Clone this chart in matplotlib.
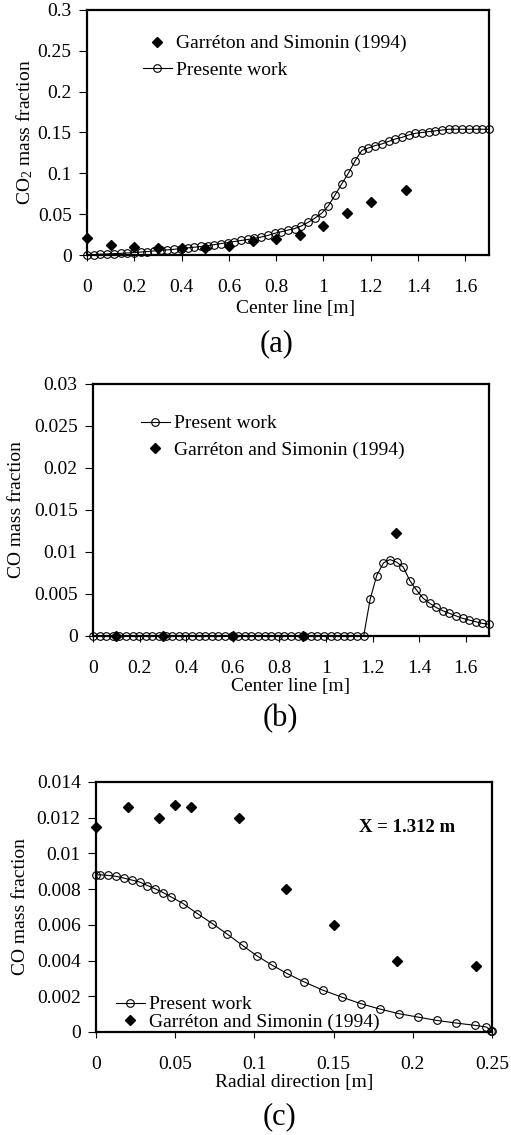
import matplotlib
matplotlib.use("Agg")
import matplotlib.pyplot as plt
from matplotlib.ticker import MultipleLocator, FormatStrFormatter

plt.rcParams['font.family'] = ['Liberation Serif', 'DejaVu Serif']
plt.rcParams['mathtext.fontset'] = 'custom'
plt.rcParams['mathtext.rm'] = 'Liberation Serif'
plt.rcParams['mathtext.it'] = 'Liberation Serif:italic'
plt.rcParams['font.size'] = 14

# ---- data: centre line grid (panels a and b) ----
xc = [0.000, 0.028, 0.057, 0.085, 0.113, 0.142, 0.170, 0.198, 0.227, 0.255,
      0.283, 0.312, 0.340, 0.368, 0.397, 0.425, 0.453, 0.482, 0.510, 0.538,
      0.567, 0.595, 0.623, 0.652, 0.680, 0.708, 0.737, 0.765, 0.793, 0.822,
      0.850, 0.878, 0.907, 0.935, 0.963, 0.992, 1.020, 1.048, 1.077, 1.105,
      1.133, 1.162, 1.190, 1.218, 1.247, 1.275, 1.303, 1.332, 1.360, 1.388,
      1.417, 1.445, 1.473, 1.502, 1.530, 1.558, 1.587, 1.615, 1.643, 1.672,
      1.700]
co2_present = [0.0000, 0.0005, 0.0010, 0.0013, 0.0017, 0.0020, 0.0025, 0.0030, 0.0036, 0.0042,
               0.0050, 0.0057, 0.0063, 0.0070, 0.0078, 0.0087, 0.0095, 0.0105, 0.0115, 0.0127,
               0.0140, 0.0153, 0.0165, 0.0178, 0.0190, 0.0205, 0.0220, 0.0240, 0.0265, 0.0285,
               0.0305, 0.0324, 0.0356, 0.0400, 0.0450, 0.0510, 0.0600, 0.0730, 0.0870, 0.1000,
               0.1150, 0.1280, 0.1310, 0.1340, 0.1360, 0.1390, 0.1420, 0.1440, 0.1470, 0.1490,
               0.1500, 0.1510, 0.1520, 0.1530, 0.1540, 0.1540, 0.1540, 0.1540, 0.1540, 0.1540,
               0.1540]
co2_exp_x = [0.0, 0.1, 0.2, 0.3, 0.4, 0.5, 0.6, 0.7, 0.8, 0.9, 1.0, 1.1, 1.2, 1.35]
co2_exp_y = [0.0206, 0.0126, 0.0100, 0.0080, 0.0080, 0.0085, 0.0105, 0.0166, 0.0194,
             0.0250, 0.0350, 0.0520, 0.0650, 0.0800]

co_present = [0.0] * 42 + [0.0044, 0.0072, 0.0087, 0.0091, 0.0088, 0.0082, 0.0066, 0.0055,
                           0.0045, 0.0039, 0.0034, 0.0030, 0.0027, 0.0024, 0.0021, 0.0019,
                           0.0017, 0.0015, 0.0014]
co_exp_x = [0.1, 0.3, 0.6, 0.9, 1.3]
co_exp_y = [0.0, 0.0, 0.0, 0.0, 0.01228]

# ---- data: radial profile at X = 1.312 m (panel c) ----
r_present = [0.0, 0.0025, 0.0075, 0.0125, 0.0175, 0.0225, 0.0275, 0.0325, 0.0375, 0.0425,
             0.0475, 0.055, 0.064, 0.0735, 0.083, 0.0925, 0.1015, 0.111, 0.1205, 0.131,
             0.143, 0.155, 0.167, 0.179, 0.191, 0.203, 0.215, 0.2275, 0.2395, 0.2465,
             0.2495, 0.25]
co_r_present = [0.0088, 0.0088, 0.00877, 0.00872, 0.00862, 0.00851, 0.00840, 0.00820, 0.00801,
                0.00780, 0.00756, 0.00719, 0.00663, 0.00607, 0.00547, 0.00485, 0.00427,
                0.00375, 0.00328, 0.00282, 0.00235, 0.00196, 0.00159, 0.00129, 0.00103,
                0.00084, 0.00065, 0.00050, 0.00037, 0.00028, 0.00006, 0.00004]
r_exp = [0.0, 0.02, 0.04, 0.05, 0.06, 0.09, 0.12, 0.15, 0.19, 0.24]
co_r_exp = [0.0115, 0.0126, 0.0120, 0.0127, 0.0126, 0.0120, 0.0080, 0.0060, 0.0040, 0.0037]

W, H = 511, 1135
fig = plt.figure(figsize=(W / 100, H / 100), dpi=100)


def box(l, t, r, b):
    return [l / W, 1 - b / H, (r - l) / W, (b - t) / H]


line_kw = dict(color='black', lw=0.8, marker='o', ms=5.5, mfc='none', mec='black',
               mew=0.8, clip_on=False, zorder=3)
exp_kw = dict(ls='none', marker='D', ms=4.8, color='black', clip_on=False, zorder=4)


def style(ax):
    for s in ax.spines.values():
        s.set_linewidth(1.6)
    ax.tick_params(axis='y', direction='out', length=6, width=0.8, pad=5)
    ax.tick_params(axis='x', direction='out', length=4, width=0.8, pad=13)
    ax.xaxis.set_major_formatter(FormatStrFormatter('%g'))
    ax.yaxis.set_major_formatter(FormatStrFormatter('%g'))
    ax.yaxis.label.set_va('center')
    ax.xaxis.label.set_va('center')


# (a)
la, ta, ra, ba = 87, 10, 489, 255
ax1 = fig.add_axes(box(la, ta, ra, ba))
h2, = ax1.plot(co2_exp_x, co2_exp_y, label='Garréton and Simonin (1994)', **exp_kw)
h1, = ax1.plot(xc, co2_present, label='Presente work', **line_kw)
ax1.set_xlim(0, 1.7)
ax1.set_ylim(0, 0.3)
ax1.xaxis.set_major_locator(MultipleLocator(0.2))
ax1.yaxis.set_major_locator(MultipleLocator(0.05))
ax1.set_xlabel('Center line [m]')
ax1.set_ylabel('CO$_2$ mass fraction')
style(ax1)
ax1.yaxis.set_label_coords((25 - la) / (ra - la), 0.5)
ax1.xaxis.set_label_coords((296 - la) / (ra - la), -(308 - ba) / (ba - ta))
ax1.legend(handles=[h2, h1], loc='upper left', frameon=False, borderpad=0,
           handlelength=1.5, handletextpad=0.2, labelspacing=0.45,
           bbox_to_anchor=(133 / W, 1 - 25 / H), bbox_transform=fig.transFigure)
fig.text(277 / W, 1 - 344 / H, '(a)', fontsize=22, ha='center', va='center')

# (b)
lb, tb, rb, bb = 93, 384, 489, 636
ax2 = fig.add_axes(box(lb, tb, rb, bb))
g1, = ax2.plot(xc, co_present, label='Present work', **line_kw)
g2, = ax2.plot(co_exp_x, co_exp_y, label='Garréton and Simonin (1994)', **exp_kw)
ax2.set_xlim(0, 1.7)
ax2.set_ylim(0, 0.03)
ax2.xaxis.set_major_locator(MultipleLocator(0.2))
ax2.yaxis.set_major_locator(MultipleLocator(0.005))
ax2.set_xlabel('Center line [m]')
ax2.set_ylabel('CO mass fraction')
style(ax2)
ax2.yaxis.set_label_coords((17 - lb) / (rb - lb), 0.5)
ax2.xaxis.set_label_coords((291 - lb) / (rb - lb), -(686 - bb) / (bb - tb))
ax2.legend(handles=[g1, g2], loc='upper left', frameon=False, borderpad=0,
           handlelength=1.5, handletextpad=0.2, labelspacing=0.45,
           bbox_to_anchor=(131 / W, 1 - 405 / H), bbox_transform=fig.transFigure)
fig.text(280 / W, 1 - 719 / H, '(b)', fontsize=22, ha='center', va='center')

# (c)
lc, tc, rc, bc = 96, 782, 492, 1032
ax3 = fig.add_axes(box(lc, tc, rc, bc))
k1, = ax3.plot(r_present, co_r_present, label='Present work', **line_kw)
k2, = ax3.plot(r_exp, co_r_exp, label='Garréton and Simonin (1994)', **exp_kw)
ax3.set_xlim(0, 0.25)
ax3.set_ylim(0, 0.014)
ax3.xaxis.set_major_locator(MultipleLocator(0.05))
ax3.yaxis.set_major_locator(MultipleLocator(0.002))
ax3.set_xlabel('Radial direction [m]')
ax3.set_ylabel('CO mass fraction')
style(ax3)
ax3.yaxis.set_label_coords((21 - lc) / (rc - lc), 0.5)
ax3.xaxis.set_label_coords((294 - lc) / (rc - lc), -(1083 - bc) / (bc - tc))
ax3.legend(handles=[k1, k2], loc='upper left', frameon=False, borderpad=0,
           handlelength=1.5, handletextpad=0.2, labelspacing=0.0,
           bbox_to_anchor=(106 / W, 1 - 986 / H), bbox_transform=fig.transFigure)
ax3.text(407 / W, 1 - 828 / H, 'X = 1.312 m', transform=fig.transFigure,
         fontsize=13.5, fontweight='bold', ha='center', va='center')
fig.text(280 / W, 1 - 1117 / H, '(c)', fontsize=22, ha='center', va='center')

fig.savefig('out.png', dpi=100)
